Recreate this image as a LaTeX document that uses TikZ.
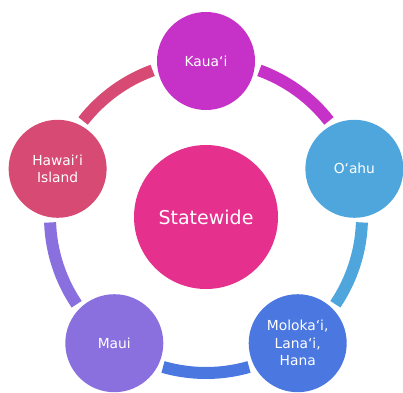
\documentclass[tikz,border=0pt]{standalone}
\usepackage{fontspec}
\setmainfont{DejaVu Sans}
\usetikzlibrary{calc}
\definecolor{cKauai}{RGB}{198,50,200}
\definecolor{cOahu}{RGB}{78,166,220}
\definecolor{cMolo}{RGB}{74,119,224}
\definecolor{cMaui}{RGB}{138,112,222}
\definecolor{cHawaii}{RGB}{214,74,116}
\definecolor{cHub}{RGB}{229,48,142}
\begin{document}
\begin{tikzpicture}[x=1pt,y=1pt,
  isle/.style={circle,minimum size=98pt,inner sep=0pt,text=white,align=center,
    font=\fontsize{13.8}{17.5}\selectfont},
  hubstyle/.style={circle,minimum size=144pt,inner sep=0pt,text=white,fill=cHub,
    font=\fontsize{19}{23}\selectfont},
  ringarc/.style={line width=12pt,line cap=butt}]
\useasboundingbox (0,0) rectangle (403,392);
\node[hubstyle] (hub) at (206,175) {Statewide};
\node[isle,fill=cKauai] (kauai) at ($(hub)+(90:156)$) {Kauaʻi};
\node[isle,fill=cOahu] (oahu) at ($(hub)+(18:156)$) {Oʻahu};
\node[isle,fill=cMolo] (molo) at ($(hub)+(-54:156)$) {Molokaʻi,\\Lanaʻi,\\Hana};
\node[isle,fill=cMaui] (maui) at ($(hub)+(-126:156)$) {Maui};
\node[isle,fill=cHawaii] (hawaii) at ($(hub)+(162:156)$) {Hawaiʻi\\Island};
\path (hub) ++(70:156) coordinate (a1)
      (hub) ++(-2:156) coordinate (a2)
      (hub) ++(-74:156) coordinate (a3)
      (hub) ++(-146:156) coordinate (a4)
      (hub) ++(142:156) coordinate (a5);
\draw[ringarc,cKauai] (a1) arc[start angle=70,end angle=38,radius=156];
\draw[ringarc,cOahu] (a2) arc[start angle=-2,end angle=-34,radius=156];
\draw[ringarc,cMolo] (a3) arc[start angle=-74,end angle=-106,radius=156];
\draw[ringarc,cMaui] (a4) arc[start angle=-146,end angle=-178,radius=156];
\draw[ringarc,cHawaii] (a5) arc[start angle=142,end angle=110,radius=156];
\end{tikzpicture}
\end{document}
